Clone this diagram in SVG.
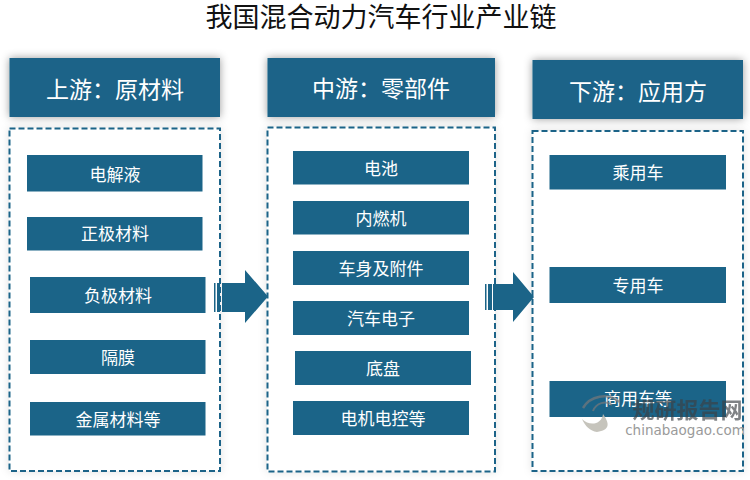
<svg xmlns="http://www.w3.org/2000/svg" width="750" height="480" viewBox="0 0 750 480">
<style>
text{font-family:"Liberation Serif","Noto Sans CJK SC",serif;text-anchor:middle}
.title{font-size:27px;fill:#111}
.head{font-size:23px;fill:#fff}
.item{font-size:17px;fill:#fff}
.h{fill:#1b6488;filter:url(#sh)}
.b{fill:#1b6488}
.d{fill:#fff;stroke:#1b6488;stroke-width:2;stroke-dasharray:6 3;filter:url(#sh2)}
</style>
<defs>
<filter id="sh" x="-15%" y="-30%" width="130%" height="160%"><feDropShadow dx="0" dy="0" stdDeviation="4" flood-color="#000" flood-opacity=".4"/></filter>
<filter id="sh2" x="-10%" y="-10%" width="120%" height="120%"><feDropShadow dx="0" dy="0" stdDeviation="4" flood-color="#000" flood-opacity=".12"/></filter>
</defs>
<text class="title" x="381" y="27">我国混合动力汽车行业产业链</text>

<g id="upstream">
<rect class="d" x="9.500" y="128.500" width="210.500" height="342.500"/>
<rect class="h" x="9.500" y="58" width="210.500" height="59"/>
<text class="head" x="115" y="98">上游：原材料</text>
</g>
<g id="up-1"><rect class="b" x="27" y="155" width="175.500" height="36.500"/><text class="item" x="115" y="181">电解液</text></g>
<g id="up-2"><rect class="b" x="27" y="217" width="175.500" height="33.500"/><text class="item" x="115" y="240">正极材料</text></g>
<g id="up-3"><rect class="b" x="30" y="277" width="175.500" height="36"/><text class="item" x="118" y="302">负极材料</text></g>
<g id="up-4"><rect class="b" x="30" y="340" width="175.500" height="34"/><text class="item" x="118" y="364">隔膜</text></g>
<g id="up-5"><rect class="b" x="30" y="402" width="175.500" height="33.500"/><text class="item" x="118" y="426">金属材料等</text></g>

<g id="midstream">
<rect class="d" x="267.500" y="127.500" width="227.500" height="344"/>
<rect class="h" x="267.500" y="58" width="227.500" height="59"/>
<text class="head" x="381" y="97">中游：零部件</text>
</g>
<g id="mid-1"><rect class="b" x="293" y="151" width="176" height="33.500"/><text class="item" x="381" y="175">电池</text></g>
<g id="mid-2"><rect class="b" x="293" y="201" width="176" height="33.500"/><text class="item" x="381" y="225">内燃机</text></g>
<g id="mid-3"><rect class="b" x="293" y="251" width="176" height="34"/><text class="item" x="381" y="275">车身及附件</text></g>
<g id="mid-4"><rect class="b" x="293" y="301" width="176" height="34"/><text class="item" x="381" y="325">汽车电子</text></g>
<g id="mid-5"><rect class="b" x="295" y="351" width="176" height="34"/><text class="item" x="383" y="375">底盘</text></g>
<g id="mid-6"><rect class="b" x="293" y="401" width="176" height="34"/><text class="item" x="383" y="425">电机电控等</text></g>

<g id="downstream">
<rect class="d" x="532.500" y="131" width="210.500" height="340"/>
<rect class="h" x="532.500" y="60" width="210.500" height="59"/>
<text class="head" x="638" y="100">下游：应用方</text>
</g>
<g id="down-1"><rect class="b" x="549.500" y="155" width="176.500" height="34.500"/><text class="item" x="638" y="179">乘用车</text></g>
<g id="down-2"><rect class="b" x="549.500" y="267" width="176.500" height="36"/><text class="item" x="638" y="292">专用车</text></g>
<g id="down-3"><rect class="b" x="549.500" y="381" width="176.500" height="36"/><text class="item" x="638" y="405">商用车等</text></g>

<g id="connectors" class="b">
<path d="M214 283h1.500v29H214ZM217 283h3v29h-3ZM222 283H245V270L268 296.500 245 323V312H222Z"/>
<path d="M485 284h1.500v26H485ZM488 284h4v26h-4ZM493 284H513V272L534 297 513 322V310H493Z"/>
</g>

<g id="watermark">
<path d="M583 408C590 396 608 392 619 402" fill="none" stroke="#77787a" stroke-width="2.500" opacity=".7"/>
<path d="M593 411C596 403 606 400 612 405" fill="none" stroke="#77787a" stroke-width="2" opacity=".7"/>
<path d="M582 419C590 427 602 424 603 414C610 424 610 430 597 432C590 431 585 426 582 419Z" fill="#c0beb5" opacity=".9"/>
<text x="687.500" y="418" style="font-family:'Noto Sans CJK SC',sans-serif;font-size:22px;font-weight:700;fill:#3c4044;opacity:.65">规研报告网</text>
<text x="685" y="435" style="font-family:'DejaVu Sans',sans-serif;font-size:13.500px;fill:#9a9a9a">chinabaogao.com</text>
</g>
</svg>
